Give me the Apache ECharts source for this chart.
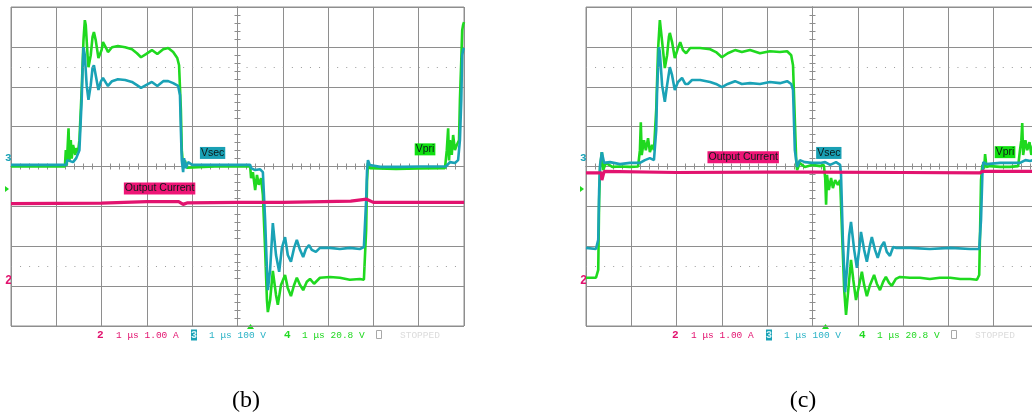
<!DOCTYPE html>
<html>
<head>
<meta charset="utf-8">
<script src="https://cdn.jsdelivr.net/npm/echarts@6/dist/echarts.min.js"></script>
<style>
  html, body { margin: 0; padding: 0; background: #ffffff; }
  #chart { width: 1032px; height: 417px; }
</style>
</head>
<body>
<div id="chart"></div>
<script>
// Oscilloscope captures: time in microseconds (1 us/div, trigger at 0),
// every trace in screen divisions (8 vertical divisions, centre = 0).

// ---- capture (b) ----
const vpriB = [
  [-5, 0], [-3.81, 0], [-3.79, 0.41], [-3.77, 0.02], [-3.73, 0.96], [-3.71, 0.15], [-3.68, 0.66],
  [-3.66, 0.2], [-3.63, 0.54], [-3.58, 0.29], [-3.56, 0.46], [-3.52, 0.36], [-3.49, 0.66],
  [-3.44, 1.92], [-3.40, 3.17], [-3.37, 3.67], [-3.35, 3.55], [-3.31, 2.79], [-3.29, 2.49],
  [-3.24, 2.79], [-3.20, 3.25], [-3.17, 3.37], [-3.13, 3.17], [-3.07, 2.72], [-3.00, 2.92],
  [-2.97, 3.12], [-2.90, 2.97], [-2.86, 2.87], [-2.77, 2.99], [-2.64, 3.02], [-2.48, 2.99],
  [-2.33, 2.94], [-2.22, 2.84], [-2.13, 2.74], [-2.02, 2.82], [-1.89, 2.92], [-1.77, 2.82],
  [-1.64, 2.94], [-1.53, 2.97], [-1.42, 2.87], [-1.33, 2.72], [-1.29, 2.54], [-1.25, 1.42],
  [-1.23, 0.41], [-1.20, 0], [-1.16, 0.15], [-1.12, -0.03], [-0.5, 0], [0.28, 0],
  [0.30, -0.29], [0.34, -0.14], [0.39, -0.59], [0.43, -0.21], [0.47, -0.46], [0.52, -0.29],
  [0.56, -0.71], [0.61, -2.09], [0.65, -3.35], [0.67, -3.65], [0.72, -3.35], [0.78, -2.62],
  [0.85, -3.22], [0.89, -3.47], [0.96, -2.97], [1.05, -2.72], [1.11, -3.05], [1.18, -3.25],
  [1.25, -2.97], [1.31, -2.79], [1.38, -2.97], [1.45, -3.10], [1.53, -2.89], [1.60, -2.82],
  [1.69, -2.94], [1.82, -2.79], [2.04, -2.77], [2.26, -2.79], [2.48, -2.84], [2.70, -2.82],
  [2.79, -2.84], [2.84, -1.59], [2.86, -0.34], [2.88, 0.09], [2.92, -0.04], [3.5, -0.06],
  [4.0, -0.05], [4.58, -0.04], [4.62, 0.41], [4.65, 0.96], [4.67, 0.15], [4.69, 0.66],
  [4.73, 0.29], [4.76, 0.79], [4.80, 0.41], [4.84, 0.54], [4.89, 0.66], [4.91, 1.67],
  [4.94, 2.67], [4.96, 3.42], [4.98, 3.55], [5.0, 3.62]
];
const vsecB = [
  [-5, 0.04], [-3.78, 0.04], [-3.76, 0.16], [-3.63, 0.11], [-3.56, 0.21], [-3.52, 0.16],
  [-3.49, 0.41], [-3.44, 1.67], [-3.42, 2.42], [-3.40, 2.99], [-3.37, 2.79], [-3.33, 2.04],
  [-3.29, 1.67], [-3.24, 2.04], [-3.20, 2.47], [-3.17, 2.54], [-3.13, 2.29], [-3.07, 1.92],
  [-3.02, 2.12], [-2.97, 2.22], [-2.90, 2.09], [-2.86, 2.02], [-2.77, 2.14], [-2.64, 2.19],
  [-2.48, 2.17], [-2.33, 2.12], [-2.22, 2.04], [-2.13, 1.97], [-2.02, 2.04], [-1.89, 2.12],
  [-1.77, 2.02], [-1.64, 2.14], [-1.53, 2.14], [-1.42, 2.09], [-1.31, 2.02], [-1.27, 1.79],
  [-1.25, 0.91], [-1.23, 0.16], [-1.20, -0.14], [-1.18, 0.21], [-1.14, -0.04], [-1.09, 0.11],
  [-1.00, 0.04], [0.28, 0.04], [0.30, -0.04], [0.39, -0.09], [0.50, -0.07], [0.56, -0.14],
  [0.61, -1.35], [0.65, -2.59], [0.67, -3.10], [0.72, -2.59], [0.78, -1.42], [0.85, -2.22],
  [0.92, -2.64], [0.98, -2.04], [1.05, -1.77], [1.11, -2.22], [1.18, -2.39], [1.25, -2.04],
  [1.31, -1.84], [1.38, -2.09], [1.45, -2.27], [1.51, -2.07], [1.58, -1.97], [1.64, -2.09],
  [1.73, -2.14], [1.82, -2.04], [2.04, -2.04], [2.26, -2.07], [2.48, -2.04], [2.70, -2.07],
  [2.79, -2.02], [2.84, -0.84], [2.86, -0.09], [2.88, 0.16], [2.92, 0.04], [3.15, -0.01],
  [3.60, -0.01], [4.05, 0], [4.60, 0], [4.69, 0.11], [4.80, 0.09], [4.87, 0.16], [4.91, 0.66],
  [4.94, 1.67], [4.96, 2.79], [4.98, 2.92], [5.0, 2.97]
];
const ioutB = [
  [-5, -0.93], [-3, -0.92], [-2, -0.88], [-1.3, -0.88], [-1.2, -0.95], [-1.1, -0.91],
  [0, -0.9], [1, -0.9], [2.5, -0.87], [2.85, -0.82], [3.0, -0.9], [5, -0.9]
];

// ---- capture (c) ----
const vpriC = [
  [-5, -2.79], [-4.78, -2.79], [-4.73, -2.59], [-4.71, -0.84], [-4.69, -0.04], [-4.65, 0.36],
  [-4.62, -0.09], [-4.56, 0.09], [-4.42, -0.01], [-4.25, 0], [-4.03, -0.01], [-3.85, 0],
  [-3.81, 0.41], [-3.79, 1.11], [-3.77, 0.29], [-3.72, 0.66], [-3.68, 0.41], [-3.63, 0.71],
  [-3.59, 0.36], [-3.54, 0.54], [-3.50, 0.41], [-3.45, 1.42], [-3.41, 2.92], [-3.37, 3.67],
  [-3.34, 3.62], [-3.30, 2.92], [-3.26, 2.47], [-3.21, 2.79], [-3.17, 3.25], [-3.15, 3.35],
  [-3.10, 3.12], [-3.04, 2.72], [-2.97, 2.97], [-2.92, 3.12], [-2.86, 2.92], [-2.79, 2.84],
  [-2.70, 2.97], [-2.48, 2.97], [-2.26, 2.94], [-2.13, 2.87], [-2.00, 2.74], [-1.87, 2.84],
  [-1.71, 2.92], [-1.56, 2.87], [-1.38, 2.92], [-1.16, 2.84], [-0.94, 2.89], [-0.72, 2.87],
  [-0.56, 2.89], [-0.47, 2.79], [-0.43, 2.54], [-0.39, 1.17], [-0.36, 0.16], [-0.34, -0.09],
  [-0.28, 0.09], [-0.17, -0.01], [-0.01, 0.04], [0.17, 0.01], [0.25, 0.04], [0.28, -0.29],
  [0.30, -0.96], [0.32, -0.21], [0.36, -0.59], [0.41, -0.29], [0.45, -0.54], [0.50, -0.34],
  [0.56, -0.46], [0.61, -0.34], [0.65, -1.59], [0.70, -3.10], [0.74, -3.72], [0.78, -3.22],
  [0.85, -2.34], [0.90, -2.84], [0.96, -3.35], [1.03, -2.97], [1.09, -2.64], [1.14, -2.97],
  [1.20, -3.25], [1.27, -2.97], [1.36, -2.72], [1.42, -2.94], [1.49, -3.10], [1.56, -2.89],
  [1.62, -2.77], [1.69, -2.92], [1.75, -2.99], [1.84, -2.82], [1.93, -2.77], [2.15, -2.79],
  [2.37, -2.79], [2.59, -2.82], [2.81, -2.79], [3.04, -2.79], [3.26, -2.82], [3.48, -2.82],
  [3.63, -2.84], [3.68, -2.72], [3.70, -1.59], [3.72, -0.34], [3.75, 0.04], [3.79, -0.04],
  [3.81, 0.31], [3.84, -0.01], [3.92, 0.01], [4.14, -0.01], [4.36, -0.01], [4.54, 0.01],
  [4.58, 0.41], [4.61, 0.66], [4.63, 1.09], [4.65, 0.29], [4.70, 0.66], [4.74, 0.41],
  [4.79, 0.61], [4.83, 0.29], [4.87, 0.54], [4.91, 0.41], [5.0, 1.67]
];
const vsecC = [
  [-5, -2.04], [-4.78, -2.07], [-4.73, -1.84], [-4.71, -0.59], [-4.69, 0.04], [-4.65, 0.36],
  [-4.60, 0.09], [-4.47, 0.11], [-4.25, 0.06], [-4.03, 0.09], [-3.81, 0.09], [-3.70, 0.16],
  [-3.59, 0.21], [-3.50, 0.16], [-3.45, 0.91], [-3.43, 1.92], [-3.39, 2.99], [-3.37, 2.87],
  [-3.32, 2.04], [-3.26, 1.62], [-3.21, 2.04], [-3.15, 2.49], [-3.10, 2.29], [-3.04, 1.92],
  [-2.97, 2.12], [-2.88, 2.22], [-2.81, 2.07], [-2.75, 2.07], [-2.66, 2.17], [-2.48, 2.17],
  [-2.26, 2.12], [-2.13, 2.07], [-2.00, 1.99], [-1.87, 2.07], [-1.71, 2.14], [-1.56, 2.07],
  [-1.38, 2.09], [-1.16, 2.07], [-0.94, 2.12], [-0.72, 2.09], [-0.56, 2.14], [-0.47, 2.07],
  [-0.43, 1.92], [-0.39, 0.41], [-0.34, -0.01], [-0.28, 0.16], [-0.17, 0.11], [-0.01, 0.09],
  [0.17, 0.09], [0.28, 0.11], [0.39, 0.04], [0.52, 0.11], [0.61, 0.04], [0.63, -0.21],
  [0.67, -1.84], [0.72, -3.15], [0.76, -2.59], [0.81, -1.72], [0.85, -1.39], [0.92, -2.09],
  [0.98, -2.54], [1.03, -2.09], [1.07, -1.64], [1.14, -2.09], [1.20, -2.39], [1.27, -1.97],
  [1.31, -1.77], [1.38, -2.09], [1.44, -2.29], [1.51, -2.02], [1.58, -1.89], [1.64, -2.14],
  [1.71, -2.24], [1.78, -2.02], [1.84, -2.04], [2.15, -2.04], [2.59, -2.07], [3.04, -2.04],
  [3.48, -2.07], [3.68, -2.07], [3.72, -1.34], [3.75, -0.21], [3.77, 0.11], [3.84, 0.06],
  [4.14, 0.09], [4.58, 0.09], [4.70, 0.16], [4.81, 0.14], [5.0, 0.21]
];
const ioutC = [
  [-5, -0.16], [-4.66, -0.16], [-4.65, -0.34], [-4.60, -0.12], [-3, -0.15], [-1, -0.14],
  [0, -0.14], [2, -0.15], [3.7, -0.16], [3.75, -0.12], [5, -0.12]
];

// ---- on-screen readouts ----
const traceTags = ['Vsec', 'Vpri', 'Output Current'];
const channelReadouts = ['1 \u03bcs 1.00 A', '1 \u03bcs 100 V', '1 \u03bcs 20.8 V'];
const acquisitionState = 'STOPPED';
const captions = ['(b)', '(c)'];

const GRID = '#8e8e8e';
const GREEN = '#1fd91f';
const TEAL = '#1aa2b6';
const MAGENTA = '#e2136f';
const MONO = '"Liberation Mono", "DejaVu Sans Mono", monospace';

const panels = [
  { left: 11, vpri: vpriB, vsec: vsecB, iout: ioutB, caption: captions[0], captionX: 246,
    tags: { vsec: [-0.55, 0.34], vpri: [4.14, 0.43], iout: [-1.72, -0.55] } },
  { left: 586, vpri: vpriC, vsec: vsecC, iout: ioutC, caption: captions[1], captionX: 803,
    tags: { vsec: [0.36, 0.34], vpri: [4.25, 0.36], iout: [-1.53, 0.23] } }
];

const grids = [], xAxes = [], yAxes = [], series = [], graphics = [];

const tickCommon = {
  axisLabel: { show: false },
  axisTick: { show: true, length: 3, lineStyle: { color: GRID, width: 1 } },
  minorTick: { show: true, splitNumber: 5, length: 3, lineStyle: { color: GRID, width: 1 } }
};

function tag(text, coord, bg) {
  return {
    coord: coord,
    symbol: 'rect',
    symbolSize: [1, 1],
    itemStyle: { color: 'rgba(0,0,0,0)' },
    label: {
      show: true, position: 'inside', formatter: text,
      backgroundColor: bg, color: '#0c1a1a', padding: [1, 1, 0, 1],
      fontSize: 10.5, fontFamily: '"Liberation Sans", Arial, sans-serif'
    }
  };
}

panels.forEach(function (p, i) {
  grids.push({
    left: p.left, top: 7, width: 453, height: 319,
    containLabel: false, outerBoundsMode: 'none',
    show: true, borderColor: GRID, borderWidth: 1, backgroundColor: 'transparent'
  });
  const xi = xAxes.length, yi = yAxes.length;
  // Main time axis: graticule lines, and the centre line ticked downwards
  xAxes.push(Object.assign({
    type: 'value', gridIndex: i, min: -5, max: 5, interval: 1, position: 'bottom',
    axisLine: { show: true, onZero: true, onZeroAxisIndex: yi, lineStyle: { color: GRID, width: 1 } },
    splitLine: { show: true, lineStyle: { color: GRID, width: 1 } }
  }, tickCommon));
  // Companion axis: same centre line ticked upwards
  xAxes.push(Object.assign({
    type: 'value', gridIndex: i, min: -5, max: 5, interval: 1, position: 'top',
    axisLine: { show: true, onZero: true, onZeroAxisIndex: yi, lineStyle: { color: GRID, width: 1 } },
    splitLine: { show: false }
  }, tickCommon));
  yAxes.push(Object.assign({
    type: 'value', gridIndex: i, min: -4, max: 4, interval: 1, position: 'left',
    axisLine: { show: true, onZero: true, onZeroAxisIndex: xi, lineStyle: { color: GRID, width: 1 } },
    splitLine: { show: true, lineStyle: { color: GRID, width: 1 } }
  }, tickCommon));
  yAxes.push(Object.assign({
    type: 'value', gridIndex: i, min: -4, max: 4, interval: 1, position: 'right',
    axisLine: { show: true, onZero: true, onZeroAxisIndex: xi, lineStyle: { color: GRID, width: 1 } },
    splitLine: { show: false }
  }, tickCommon));

  const base = { type: 'line', xAxisIndex: xi, yAxisIndex: yi, symbol: 'none', showSymbol: false,
    animation: false, silent: true, clip: true };

  series.push(Object.assign({}, base, {
    name: 'Vpri', data: p.vpri, z: 3,
    lineStyle: { color: GREEN, width: 2.6 },
    markPoint: { silent: true, animation: false, data: [tag(traceTags[1], p.tags.vpri, '#10e010')] }
  }));
  series.push(Object.assign({}, base, {
    name: 'Vsec', data: p.vsec, z: 4,
    lineStyle: { color: TEAL, width: 2.6 },
    markPoint: { silent: true, animation: false, data: [tag(traceTags[0], p.tags.vsec, '#1aa0b4')] }
  }));
  series.push(Object.assign({}, base, {
    name: 'Output Current', data: p.iout, z: 5,
    lineStyle: { color: MAGENTA, width: 3.2 },
    markPoint: { silent: true, animation: false, data: [tag(traceTags[2], p.tags.iout, '#ee1576')] },
    // dotted graticule rows
    markLine: {
      silent: true, animation: false, symbol: 'none', label: { show: false },
      lineStyle: { color: '#9a9a9a', width: 1, type: [1, 8.06] },
      data: [{ yAxis: 2.5 }, { yAxis: -2.5 }]
    }
  }));

  // Channel ground markers on the left edge
  const L = p.left;
  graphics.push({ type: 'text', silent: true, style: { text: '3', x: L - 6, y: 158, fill: TEAL,
    font: 'bold 11px ' + MONO, verticalAlign: 'middle' } });
  graphics.push({ type: 'polygon', silent: true, shape: { points: [[L - 6, 186], [L - 2, 189], [L - 6, 192]] },
    style: { fill: GREEN } });
  graphics.push({ type: 'text', silent: true, style: { text: '2', x: L - 6, y: 281, fill: MAGENTA,
    font: 'bold 12px ' + MONO, verticalAlign: 'middle' } });
  // Trigger position marker
  graphics.push({ type: 'polygon', silent: true, shape: { points: [[L + 236, 329], [L + 239.5, 324], [L + 243, 329]] },
    style: { fill: GREEN } });

  // Readout line below the graticule
  const ry = 335;
  graphics.push({ type: 'text', silent: true, style: { text: '2', x: L + 86, y: ry, fill: MAGENTA,
    font: 'bold 11px ' + MONO, verticalAlign: 'middle' } });
  graphics.push({ type: 'text', silent: true, style: { text: channelReadouts[0], x: L + 105, y: ry, fill: MAGENTA,
    font: '9.5px ' + MONO, verticalAlign: 'middle' } });
  graphics.push({ type: 'text', silent: true, style: { text: '3', x: L + 180, y: ry, fill: '#d6f3f7',
    backgroundColor: TEAL, padding: [1, 0, 0, 0], font: 'bold 10px ' + MONO, verticalAlign: 'middle' } });
  graphics.push({ type: 'text', silent: true, style: { text: channelReadouts[1], x: L + 198, y: ry, fill: '#2bb3c6',
    font: '9.5px ' + MONO, verticalAlign: 'middle' } });
  graphics.push({ type: 'text', silent: true, style: { text: '4', x: L + 273, y: ry, fill: GREEN,
    font: 'bold 11px ' + MONO, verticalAlign: 'middle' } });
  graphics.push({ type: 'text', silent: true, style: { text: channelReadouts[2], x: L + 291, y: ry, fill: '#22d822',
    font: '9.5px ' + MONO, verticalAlign: 'middle' } });
  graphics.push({ type: 'rect', silent: true, shape: { x: L + 365.5, y: 330.5, width: 5, height: 8 },
    style: { fill: 'none', stroke: '#a8a8a8', lineWidth: 1 } });
  graphics.push({ type: 'text', silent: true, style: { text: acquisitionState, x: L + 389, y: ry, fill: '#dcdcdc',
    font: '9.5px ' + MONO, verticalAlign: 'middle' } });

  // Sub-figure caption
  graphics.push({ type: 'text', silent: true, style: { text: p.caption, x: p.captionX, y: 401, fill: '#000000',
    font: '24px "Liberation Serif", "Times New Roman", serif', align: 'center', verticalAlign: 'middle' } });
});

const chart = echarts.init(document.getElementById('chart'), null, { renderer: 'canvas' });
chart.setOption({
  backgroundColor: '#ffffff',
  animation: false,
  grid: grids,
  xAxis: xAxes,
  yAxis: yAxes,
  series: series,
  graphic: { elements: graphics }
});
</script>
</body>
</html>
